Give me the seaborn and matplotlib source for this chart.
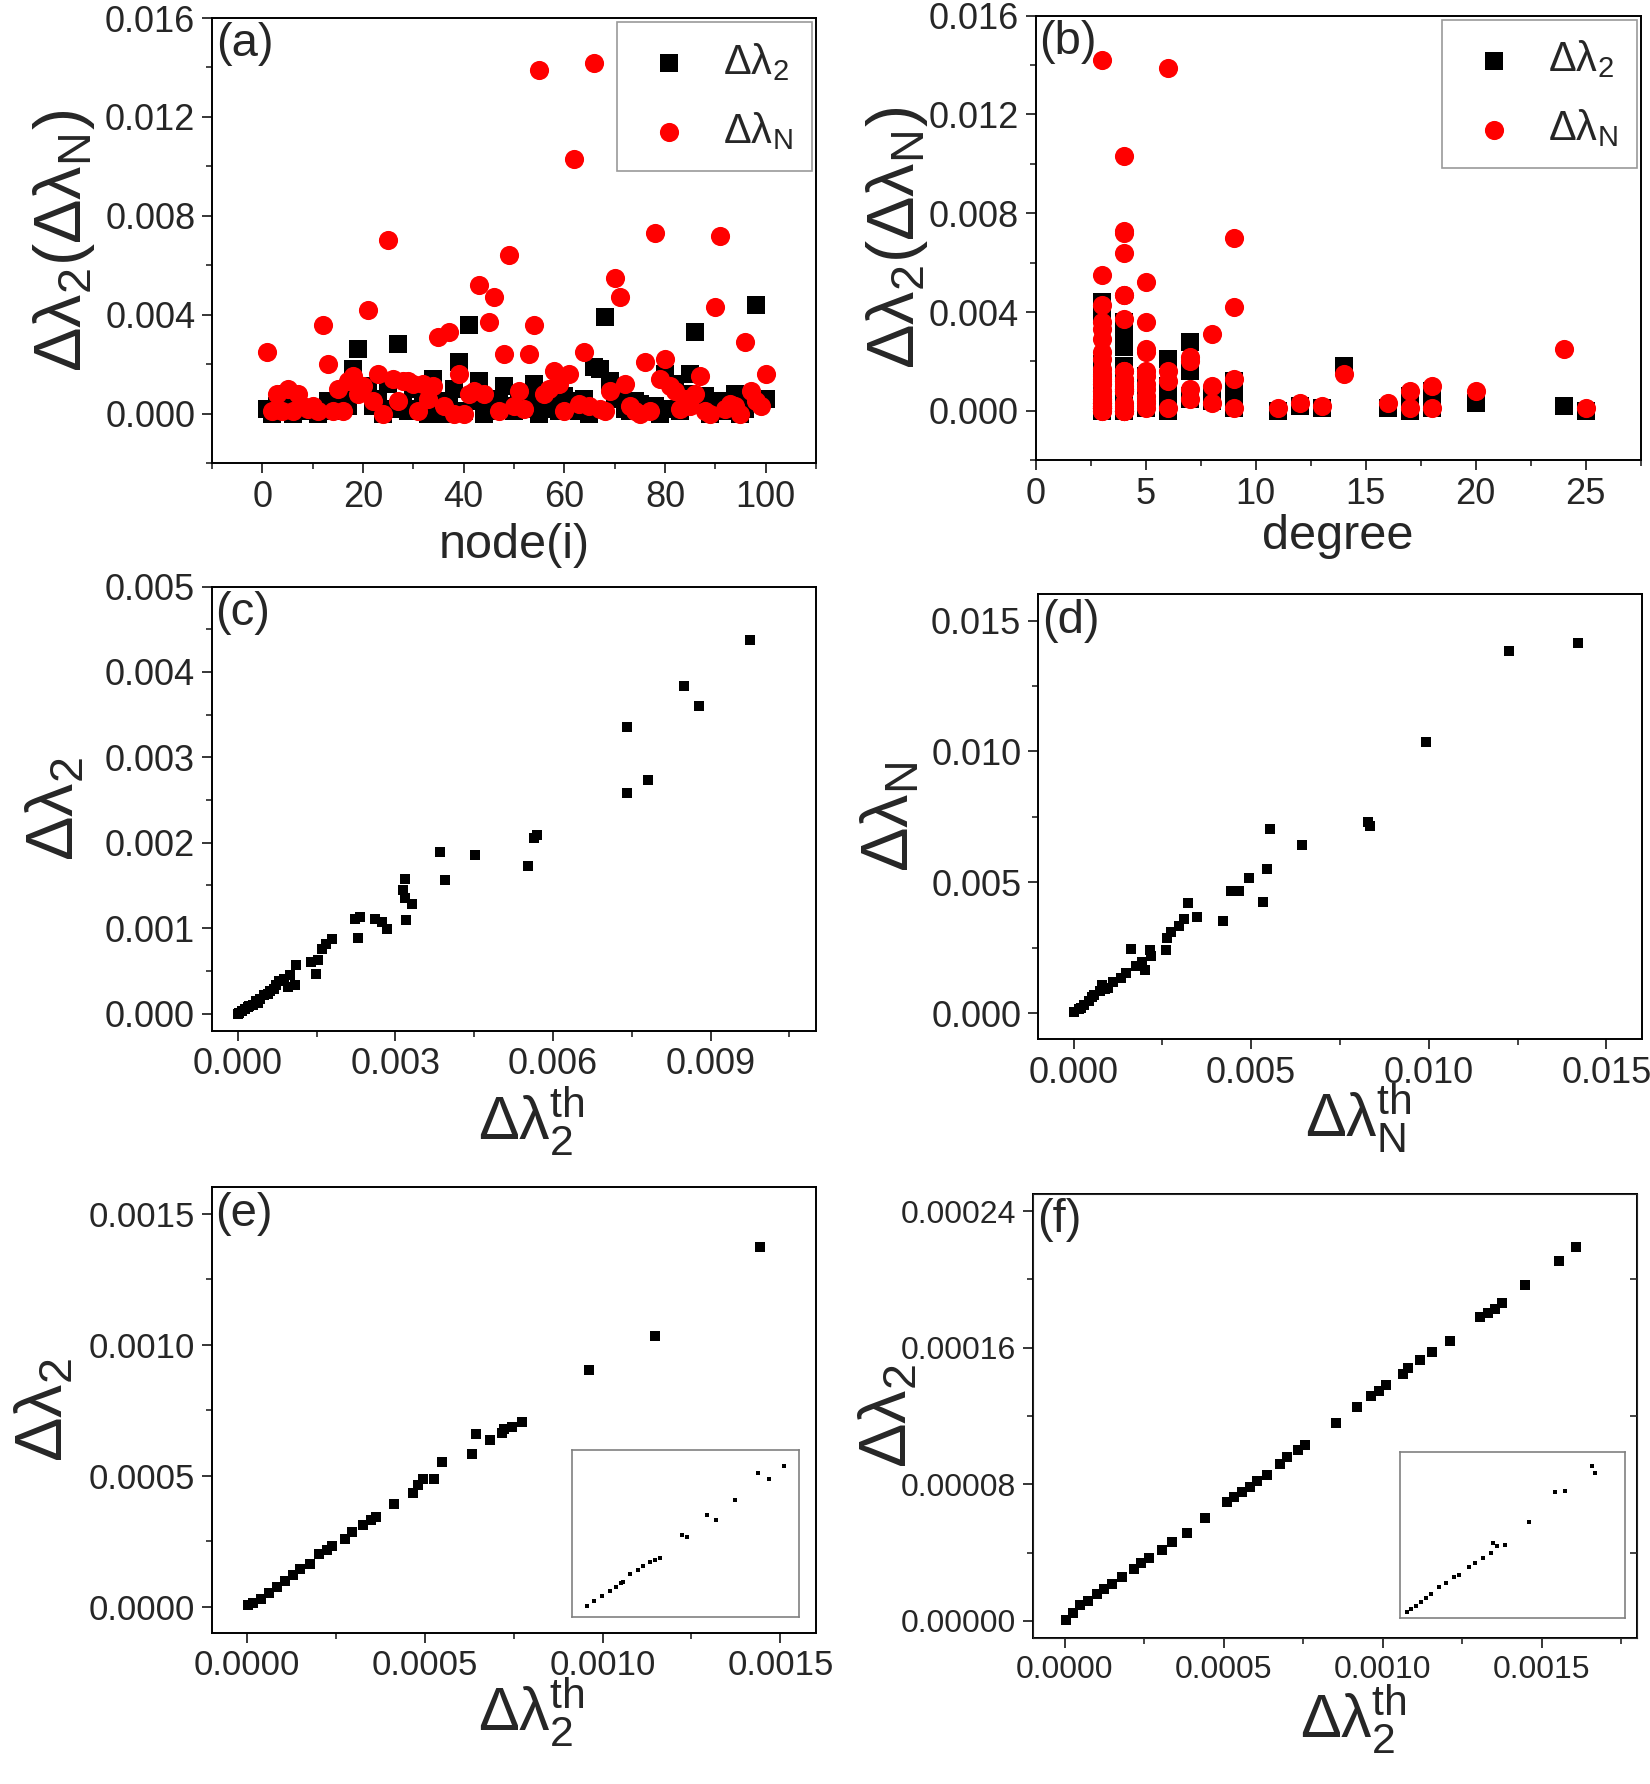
import numpy as np
import pandas as pd
import matplotlib
matplotlib.use("Agg")
import matplotlib.pyplot as plt
import seaborn as sns
from matplotlib.ticker import MultipleLocator, FormatStrFormatter

sns.set_style("ticks")
plt.rcParams['font.family'] = ['Liberation Sans', 'DejaVu Sans']
plt.rcParams['mathtext.fontset'] = 'custom'
plt.rcParams['mathtext.rm'] = 'Liberation Sans'
plt.rcParams['mathtext.it'] = 'Liberation Sans:italic'
plt.rcParams['mathtext.bf'] = 'Liberation Sans:bold'
plt.rcParams['mathtext.sf'] = 'Liberation Sans'

# ---- data: per-node changes (panels a, b) ----
node = list(range(1, 101))
degree = [24, 25, 20, 18, 18, 17, 17, 16, 13, 12,
          11, 5, 7, 9, 8, 6, 9, 14, 4, 3,
          9, 3, 5, 4, 9, 5, 7, 4, 3, 6,
          3, 4, 3, 5, 8, 4, 3, 4, 6, 3,
          4, 5, 5, 3, 4, 4, 3, 3, 4, 3,
          4, 3, 5, 3, 6, 3, 4, 3, 4, 3,
          4, 4, 3, 5, 3, 3, 4, 3, 4, 3,
          4, 3, 5, 3, 4, 3, 4, 4, 3, 7,
          3, 4, 3, 5, 3, 4, 3, 5, 3, 3,
          4, 3, 5, 3, 4, 3, 7, 3, 8, 4]
dl2 = [0.0002, 0.0000, 0.0003, 0.0001, 0.0008, 0.0000, 0.0006, 0.0001, 0.0001, 0.0002,
       0.0000, 0.0002, 0.0005, 0.0001, 0.0004, 0.0007, 0.0003, 0.0018, 0.0026, 0.0011,
       0.0010, 0.0003, 0.0006, 0.0000, 0.0012, 0.0002, 0.0028, 0.0004, 0.0001, 0.0010,
       0.0002, 0.0004, 0.0000, 0.0014, 0.0005, 0.0000, 0.0003, 0.0010, 0.0021, 0.0001,
       0.0036, 0.0005, 0.0013, 0.0000, 0.0002, 0.0001, 0.0006, 0.0011, 0.0003, 0.0001,
       0.0008, 0.0002, 0.0005, 0.0012, 0.0000, 0.0004, 0.0002, 0.0006, 0.0001, 0.0007,
       0.0003, 0.0005, 0.0001, 0.0006, 0.0000, 0.0019, 0.0018, 0.0039, 0.0013, 0.0006,
       0.0008, 0.0002, 0.0001, 0.0005, 0.0004, 0.0003, 0.0001, 0.0003, 0.0000, 0.0016,
       0.0002, 0.0012, 0.0001, 0.0008, 0.0016, 0.0033, 0.0004, 0.0007, 0.0000, 0.0002,
       0.0005, 0.0001, 0.0003, 0.0008, 0.0000, 0.0002, 0.0006, 0.0044, 0.0006, 0.0006]
dlN = [0.0025, 0.0001, 0.0008, 0.0001, 0.0010, 0.0001, 0.0008, 0.0003, 0.0002, 0.0003,
       0.0001, 0.0036, 0.0020, 0.0001, 0.0010, 0.0001, 0.0013, 0.0015, 0.0008, 0.0011,
       0.0042, 0.0005, 0.0016, 0.0000, 0.0070, 0.0014, 0.0005, 0.0013, 0.0013, 0.0012,
       0.0001, 0.0012, 0.0006, 0.0011, 0.0031, 0.0003, 0.0033, 0.0000, 0.0016, 0.0000,
       0.0008, 0.0009, 0.0052, 0.0008, 0.0037, 0.0047, 0.0001, 0.0024, 0.0064, 0.0003,
       0.0009, 0.0002, 0.0024, 0.0036, 0.0139, 0.0008, 0.0010, 0.0017, 0.0012, 0.0001,
       0.0016, 0.0103, 0.0004, 0.0025, 0.0003, 0.0142, 0.0002, 0.0001, 0.0009, 0.0055,
       0.0047, 0.0012, 0.0003, 0.0001, 0.0000, 0.0021, 0.0001, 0.0073, 0.0014, 0.0022,
       0.0011, 0.0009, 0.0002, 0.0006, 0.0003, 0.0008, 0.0015, 0.0001, 0.0000, 0.0043,
       0.0072, 0.0002, 0.0004, 0.0003, 0.0000, 0.0029, 0.0009, 0.0005, 0.0003, 0.0016]

# ---- panel c: dl2 vs theory ----
c_th = [0.00975, 0.0085, 0.00878, 0.00741, 0.0074, 0.0078, 0.00564, 0.00570, 0.00552, 0.00452,
        0.00384, 0.00394, 0.00319, 0.00314, 0.00319, 0.00332, 0.0032, 0.00223, 0.00233, 0.00228,
        0.00262, 0.00274, 0.00284, 0.0018, 0.00168, 0.0016, 0.00153, 0.0014, 0.00148, 0.00111,
        0.0010, 0.00108, 0.00096, 0.00078, 0.00068, 0.00058, 0.00050, 0.00043, 0.00035, 0.00028,
        0.0002, 0.00013, 0.00008, 0.00003, 0.0, 0.00062, 0.00072, 0.00088, 0.00038, 0.00022]
c_sim = [0.00437, 0.00384, 0.0036, 0.00335, 0.00258, 0.00273, 0.00206, 0.00209, 0.00173, 0.00186,
         0.00189, 0.00156, 0.00158, 0.00145, 0.00135, 0.00128, 0.00109, 0.00111, 0.00113, 0.00089,
         0.00111, 0.00107, 0.00099, 0.00087, 0.00082, 0.00075, 0.00063, 0.0006, 0.00046, 0.00057,
         0.00045, 0.00034, 0.00031, 0.00038, 0.00029, 0.00023, 0.00022, 0.00017, 0.00015, 0.0001,
         0.00008, 0.00005, 0.00003, 0.00001, 0.0, 0.00026, 0.00033, 0.0004, 0.00012, 0.00009]

# ---- panel d: dlN vs theory ----
d_th = [0.01419, 0.01227, 0.00993, 0.00828, 0.00835, 0.00554, 0.00643, 0.00544, 0.00495, 0.00443,
        0.00465, 0.00532, 0.00421, 0.00322, 0.00347, 0.0031, 0.00296, 0.00273, 0.00263, 0.00259,
        0.00214, 0.00219, 0.00163, 0.00192, 0.0020, 0.00177, 0.00148, 0.00133, 0.00111, 0.00096,
        0.00081, 0.00074, 0.00059, 0.00044, 0.0003, 0.00015, 0.0, 0.00052, 0.00088, 0.00022]
d_sim = [0.01414, 0.01383, 0.01035, 0.00732, 0.00717, 0.00705, 0.00644, 0.0055, 0.00518, 0.00467,
         0.00467, 0.00424, 0.00353, 0.00421, 0.00367, 0.00361, 0.00333, 0.00311, 0.00288, 0.00242,
         0.00242, 0.0022, 0.00245, 0.00197, 0.00164, 0.00182, 0.00152, 0.00136, 0.00121, 0.00098,
         0.00106, 0.00083, 0.00068, 0.00045, 0.0003, 0.00015, 0.00003, 0.0006, 0.00092, 0.0002]

# ---- panel e ----
e_th = [0.001444, 0.001146, 0.000962, 0.000772, 0.000746, 0.000724, 0.000716, 0.000682, 0.000643, 0.000632,
        0.000547, 0.000525, 0.000496, 0.000481, 0.000466, 0.000412, 0.000363, 0.000349, 0.000326, 0.000294,
        0.000275, 0.000238, 0.000224, 0.000201, 0.000176, 0.00015, 0.000128, 0.000106, 0.000084, 0.000062,
        0.00004, 0.000018, 0.000003]
e_sim = [0.001373, 0.001033, 0.000903, 0.000704, 0.000687, 0.000676, 0.000661, 0.000637, 0.000657, 0.000582,
         0.000552, 0.000488, 0.000485, 0.000463, 0.000433, 0.000391, 0.00034, 0.000331, 0.000313, 0.000284,
         0.000257, 0.000231, 0.000216, 0.000199, 0.000164, 0.000145, 0.000119, 0.000097, 0.000075, 0.000052,
         0.00003, 0.000015, 0.000004]
e_in_x = [0.065, 0.10, 0.135, 0.169, 0.193, 0.216, 0.227, 0.258, 0.29, 0.313, 0.343, 0.367, 0.39,
          0.483, 0.506, 0.594, 0.633, 0.719, 0.819, 0.87, 0.935]
e_in_y = [0.068, 0.096, 0.125, 0.155, 0.179, 0.202, 0.209, 0.261, 0.28, 0.304, 0.332, 0.344, 0.355,
          0.492, 0.478, 0.614, 0.584, 0.701, 0.866, 0.826, 0.904]

# ---- panel f ----
f_th = [0.001607, 0.001554, 0.001447, 0.001376, 0.001352, 0.00133, 0.001307, 0.001211, 0.001154, 0.001118,
        0.00108, 0.001063, 0.00101, 0.000989, 0.000964, 0.000918, 0.000854, 0.000755, 0.000733, 0.0007,
        0.000676, 0.000635, 0.000605, 0.000582, 0.000557, 0.000532, 0.000511, 0.00044, 0.000384, 0.000338,
        0.000305, 0.000264, 0.000239, 0.000219, 0.000181, 0.000148, 0.000124, 0.000102, 0.000074, 0.000049,
        0.000025, 0.000005]
f_sim = [0.0002187, 0.0002109, 0.0001969, 0.0001861, 0.0001827, 0.0001804, 0.0001781, 0.0001639, 0.0001575, 0.0001529,
         0.0001483, 0.0001449, 0.000138, 0.0001346, 0.0001316, 0.0001254, 0.0001158, 0.0001032, 0.0001002, 0.000096,
         0.0000917, 0.0000857, 0.0000818, 0.0000784, 0.0000756, 0.0000727, 0.0000697, 0.0000601, 0.0000516, 0.0000463,
         0.0000417, 0.0000367, 0.0000337, 0.0000307, 0.0000257, 0.0000215, 0.0000188, 0.000016, 0.0000119, 0.0000092,
         0.0000046, 0.0000005]
f_in_x = [0.032, 0.052, 0.074, 0.096, 0.118, 0.140, 0.174, 0.206, 0.239, 0.265, 0.307, 0.332, 0.369,
          0.406, 0.413, 0.432, 0.465, 0.571, 0.689, 0.730, 0.853, 0.863]
f_in_y = [0.032, 0.052, 0.070, 0.096, 0.116, 0.141, 0.183, 0.207, 0.243, 0.257, 0.307, 0.327, 0.357,
          0.388, 0.448, 0.432, 0.438, 0.574, 0.755, 0.765, 0.916, 0.869]

df_nodes = pd.DataFrame({"node": node, "degree": degree, "dl2": dl2, "dlN": dlN})

XLAB_FS = 35
XLAB_TH_FS = 44
YLAB_FS = 48
PANEL_FS = 34

L2 = r'$\mathrm{\Delta\lambda_2}$'
LN = r'$\mathrm{\Delta\lambda_N}$'
L2N = r'$\mathrm{\Delta\lambda_2(\Delta\lambda_N)}$'
L2TH = r'$\mathrm{\Delta\lambda_2^{th}}$'
LNTH = r'$\mathrm{\Delta\lambda_N^{th}}$'

fig = plt.figure(figsize=(16.5, 17.84), dpi=100)
ax_a = fig.add_axes([0.1285, 0.7405, 0.366, 0.2494])
ax_b = fig.add_axes([0.6276, 0.7420, 0.3668, 0.2492])
ax_c = fig.add_axes([0.1282, 0.4223, 0.3662, 0.2489])
ax_d = fig.add_axes([0.6291, 0.4174, 0.3660, 0.2494])
ax_e = fig.add_axes([0.1282, 0.0848, 0.3663, 0.2496])
ax_f = fig.add_axes([0.6261, 0.0818, 0.3660, 0.2489])


def style(ax, xlim, ylim, xmaj, xmin, ymaj, ymin, xfmt, yfmt, tag, fs=26):
    ax.set_xlim(*xlim)
    ax.set_ylim(*ylim)
    ax.xaxis.set_major_locator(MultipleLocator(xmaj))
    ax.xaxis.set_minor_locator(MultipleLocator(xmin))
    ax.yaxis.set_major_locator(MultipleLocator(ymaj))
    ax.yaxis.set_minor_locator(MultipleLocator(ymin))
    ax.xaxis.set_major_formatter(FormatStrFormatter(xfmt))
    ax.yaxis.set_major_formatter(FormatStrFormatter(yfmt))
    ax.tick_params(which='major', direction='out', length=7, width=1.3, labelsize=fs, pad=5)
    ax.tick_params(which='minor', direction='out', length=4, width=1.2)
    for sp in ax.spines.values():
        sp.set_linewidth(1.4)
        sp.set_color('black')
    ax.text(0.006, 0.99, tag, transform=ax.transAxes, ha='left', va='top', fontsize=PANEL_FS)


def legend(ax):
    leg = ax.legend(loc='upper right', borderaxespad=0.1, fontsize=30, frameon=True,
                    fancybox=False, edgecolor='#808080', handletextpad=0.5, labelspacing=0.65,
                    borderpad=0.45, handlelength=1.6, markerscale=1.0)
    leg.get_frame().set_linewidth(1.2)


# (a)
sns.scatterplot(data=df_nodes, x="node", y="dl2", marker='s', color='black', s=150,
                linewidth=0, ax=ax_a, label=L2, zorder=2)
sns.scatterplot(data=df_nodes, x="node", y="dlN", marker='o', color='#ff0000', s=190,
                linewidth=0, ax=ax_a, label=LN, zorder=3)
style(ax_a, (-10, 110), (-0.002, 0.016), 20, 10, 0.004, 0.002, '%d', '%.3f', '(a)')
ax_a.set_xlabel('node(i)', fontsize=XLAB_FS)
ax_a.set_ylabel(L2N, fontsize=YLAB_FS)
ax_a.yaxis.set_label_coords(-0.19, 0.5)
ax_a.xaxis.set_label_coords(0.5, -0.135)
legend(ax_a)

# (b)
sns.scatterplot(data=df_nodes, x="degree", y="dl2", marker='s', color='black', s=150,
                linewidth=0, ax=ax_b, label=L2, zorder=2)
sns.scatterplot(data=df_nodes, x="degree", y="dlN", marker='o', color='#ff0000', s=190,
                linewidth=0, ax=ax_b, label=LN, zorder=3)
style(ax_b, (0, 27.5), (-0.002, 0.016), 5, 2.5, 0.004, 0.002, '%d', '%.3f', '(b)')
ax_b.set_xlabel('degree', fontsize=XLAB_FS)
ax_b.set_ylabel(L2N, fontsize=YLAB_FS)
ax_b.yaxis.set_label_coords(-0.174, 0.5)
ax_b.xaxis.set_label_coords(0.5, -0.12)
legend(ax_b)

# (c)
sns.scatterplot(x=c_th, y=c_sim, marker='s', color='black', s=55, linewidth=0, ax=ax_c)
style(ax_c, (-0.0005, 0.011), (-0.0002, 0.005), 0.003, 0.0015, 0.001, 0.0005, '%.3f', '%.3f', '(c)')
ax_c.set_xlabel(L2TH, fontsize=XLAB_TH_FS)
ax_c.set_ylabel(L2, fontsize=YLAB_FS)
ax_c.yaxis.set_label_coords(-0.206, 0.5)
ax_c.xaxis.set_label_coords(0.53, -0.12)

# (d)
sns.scatterplot(x=d_th, y=d_sim, marker='s', color='black', s=55, linewidth=0, ax=ax_d)
style(ax_d, (-0.001, 0.016), (-0.001, 0.016), 0.005, 0.0025, 0.005, 0.0025, '%.3f', '%.3f', '(d)')
ax_d.set_xlabel(LNTH, fontsize=XLAB_TH_FS)
ax_d.set_ylabel(LN, fontsize=YLAB_FS)
ax_d.yaxis.set_label_coords(-0.192, 0.5)
ax_d.xaxis.set_label_coords(0.53, -0.095)

# (e)
sns.scatterplot(x=e_th, y=e_sim, marker='s', color='black', s=55, linewidth=0, ax=ax_e)
style(ax_e, (-0.0001, 0.0016), (-0.0001, 0.0016), 0.0005, 0.00025, 0.0005, 0.00025, '%.4f', '%.4f', '(e)', fs=25)
ax_e.set_xlabel(L2TH, fontsize=XLAB_TH_FS)
ax_e.set_ylabel(L2, fontsize=YLAB_FS)
ax_e.yaxis.set_label_coords(-0.224, 0.5)
ax_e.xaxis.set_label_coords(0.53, -0.095)
in_e = ax_e.inset_axes([0.596, 0.035, 0.376, 0.375])
sns.scatterplot(x=e_in_x, y=e_in_y, marker='s', color='black', s=5, linewidth=0, ax=in_e)
in_e.set_xlim(0, 1)
in_e.set_ylim(0, 1)
in_e.set_xticks([])
in_e.set_yticks([])
for sp in in_e.spines.values():
    sp.set_color('#808080')
    sp.set_linewidth(1.2)

# (f)
sns.scatterplot(x=f_th, y=f_sim, marker='s', color='black', s=55, linewidth=0, ax=ax_f)
style(ax_f, (-0.0001, 0.0018), (-0.00001, 0.00025), 0.0005, 0.00025, 0.00008, 0.00004, '%.4f', '%.5f', '(f)', fs=23)
ax_f.set_xlabel(L2TH, fontsize=XLAB_TH_FS)
ax_f.set_ylabel(L2, fontsize=YLAB_FS)
ax_f.yaxis.set_label_coords(-0.187, 0.5)
ax_f.xaxis.set_label_coords(0.53, -0.10)
tw = ax_f.twinx()
tw.set_ylim(ax_f.get_ylim())
tw.set_yticks([0.00004, 0.00012, 0.00020])
tw.tick_params(direction='in', length=5, width=1.2, labelright=False)
in_f = ax_f.inset_axes([0.607, 0.046, 0.374, 0.374])
sns.scatterplot(x=f_in_x, y=f_in_y, marker='s', color='black', s=5, linewidth=0, ax=in_f)
in_f.set_xlim(0, 1)
in_f.set_ylim(0, 1)
in_f.set_xticks([])
in_f.set_yticks([])
for sp in in_f.spines.values():
    sp.set_color('#808080')
    sp.set_linewidth(1.2)

for a in (in_e, in_f):
    a.set_xlabel('')
    a.set_ylabel('')

fig.savefig('out.png', dpi=100)
